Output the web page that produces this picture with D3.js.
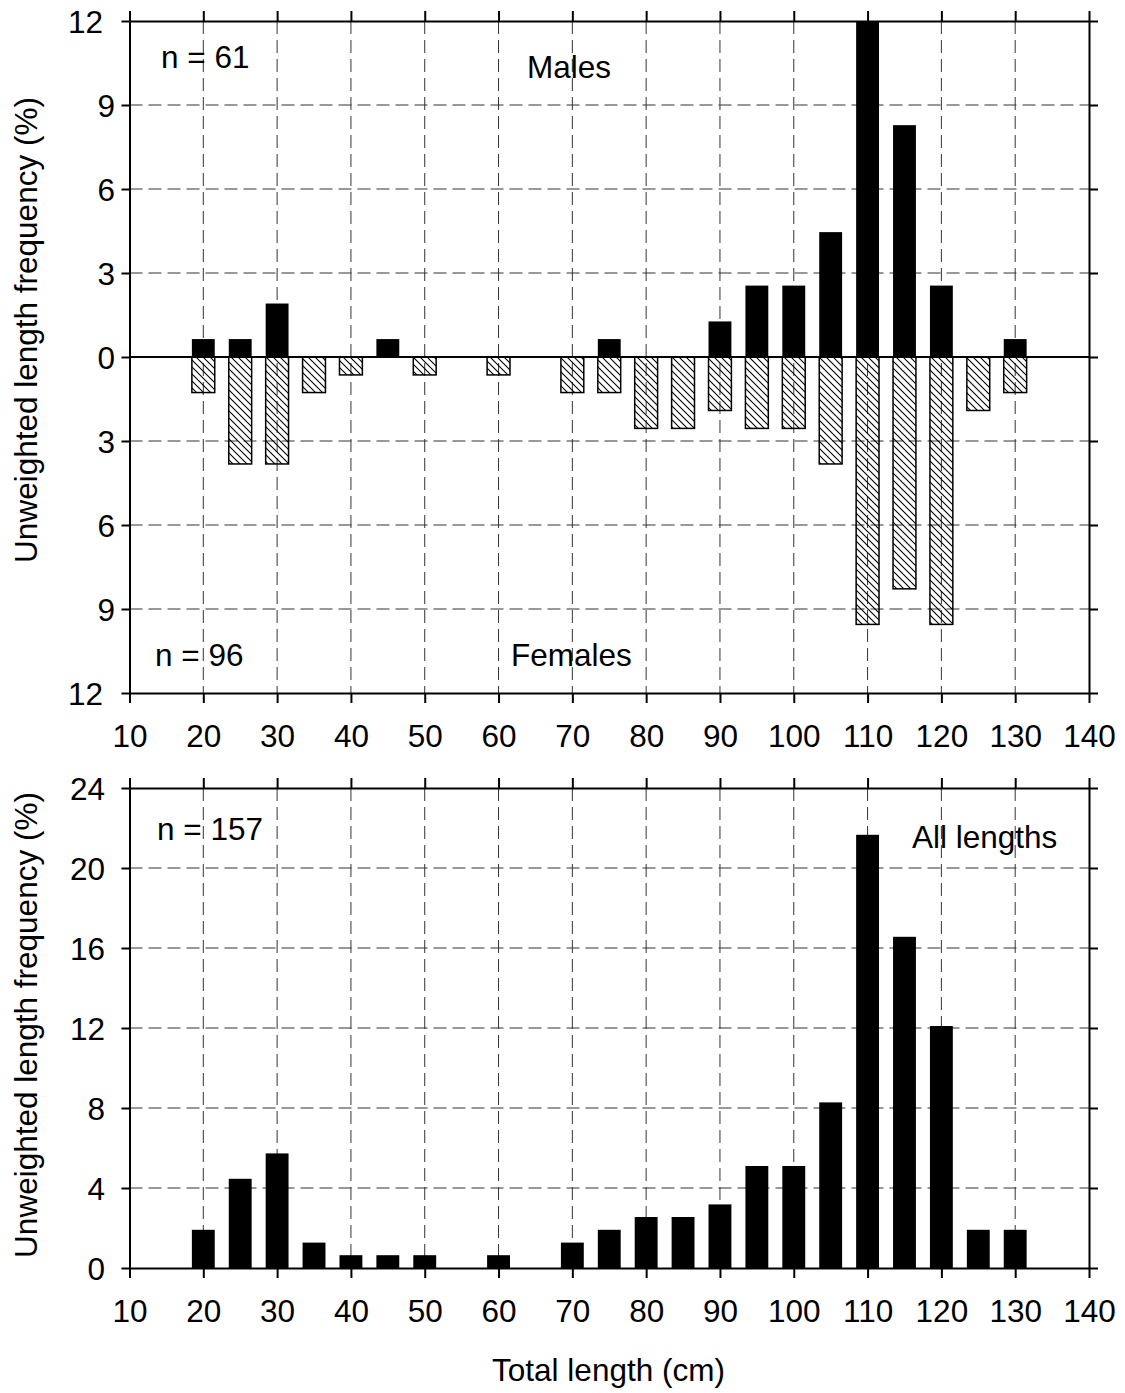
<!DOCTYPE html>
<html><head><meta charset="utf-8">
<script src="https://cdn.jsdelivr.net/npm/d3@7"></script>
<style>
html,body{margin:0;padding:0;background:#fff;}
text{font-family:"Liberation Sans",Arial,sans-serif;fill:#000;}
</style></head>
<body>
<svg id="c" width="1125" height="1393"></svg>
<script>
const lengths = [20,25,30,35,40,45,50,55,60,65,70,75,80,85,90,95,100,105,110,115,120,125,130];
const males   = [0.64,0.64,1.91,0,0,0.64,0,0,0,0,0,0.64,0,0,1.27,2.55,2.55,4.46,12.10,8.28,2.55,0,0.64];
const females = [1.27,3.82,3.82,1.27,0.64,0,0.64,0,0.64,0,1.27,1.27,2.55,2.55,1.91,2.55,2.55,3.82,9.55,8.28,9.55,1.91,1.27];
const allLengths = [1.91,4.46,5.73,1.27,0.64,0.64,0.64,0,0.64,0,1.27,1.91,2.55,2.55,3.18,5.10,5.10,8.28,21.66,16.56,12.10,1.91,1.91];
const xTicks = [10,20,30,40,50,60,70,80,90,100,110,120,130,140];
const yTicksTop = [-12,-9,-6,-3,0,3,6,9,12];
const yTicksBottom = [0,4,8,12,16,20,24];
const nMales = "n = 61", nFemales = "n = 96", nAll = "n = 157";

const FS = 31.5;
const svg = d3.select("#c");
const x = d3.scaleLinear().domain([10,140]).range([129.5,1089]);
const barW = x(13.1) - x(10);

const defs = svg.append("defs");
const pat = defs.append("pattern").attr("id","hatch").attr("patternUnits","userSpaceOnUse")
  .attr("width",7).attr("height",7);
pat.append("path").attr("d","M-1,-1 L8,8 M-1,6 L1,8 M6,-1 L8,1").attr("stroke","#000").attr("stroke-width",1.1);

function panel(y, yTicks, labelEnd, clipId) {
  const g = svg.append("g");
  const [y0,y1] = y.range(); // bottom, top
  defs.append("clipPath").attr("id",clipId).append("rect")
    .attr("x",x(10)).attr("y",y1).attr("width",x(140)-x(10)).attr("height",y0-y1);
  const grid = g.append("g").attr("stroke","#333").attr("stroke-width",1).attr("stroke-dasharray","13,6");
  grid.selectAll("line.v").data(xTicks.filter(d=>d>10&&d<140)).join("line")
    .attr("x1",d=>x(d)).attr("x2",d=>x(d)).attr("y1",y1).attr("y2",y0);
  grid.selectAll("line.h").data(yTicks.filter(d=>d!==0 && d!==y.domain()[0] && d!==y.domain()[1])).join("line")
    .attr("x1",x(10)).attr("x2",x(140)).attr("y1",d=>y(d)).attr("y2",d=>y(d));
  const bars = g.append("g").attr("clip-path",`url(#${clipId})`);
  const ax = (gen, tr) => {
    const a = g.append("g").attr("transform",tr).call(gen);
    a.select(".domain").attr("stroke-width",2);
    a.selectAll(".tick line").attr("stroke-width",2);
    return a;
  };
  const bx = ax(d3.axisBottom(x).tickValues(xTicks).tickSize(10).tickSizeOuter(0).tickPadding(22), `translate(0,${y0})`);
  bx.selectAll("text").attr("font-size",FS).attr("font-family","Liberation Sans, Arial, sans-serif");
  ax(d3.axisTop(x).tickValues(xTicks).tickSize(10).tickSizeOuter(0).tickFormat(""), `translate(0,${y1})`);
  const ly = ax(d3.axisLeft(y).tickValues(yTicks).tickSize(8).tickSizeOuter(0).tickFormat(d=>Math.abs(d)), `translate(${x(10)},0)`);
  ly.selectAll("text").attr("font-size",FS).attr("font-family","Liberation Sans, Arial, sans-serif")
    .attr("x",function(d){ return labelEnd(String(Math.abs(d))) - x(10); }).attr("dy","0.35em");
  ax(d3.axisRight(y).tickValues(yTicks).tickSize(9).tickSizeOuter(0).tickFormat(""), `translate(${x(140)},0)`);
  return {g, bars};
}

// top panel
const yT = d3.scaleLinear().domain([-12,12]).range([693,21]);
const topPanel = panel(yT, yTicksTop, s => s.length>1 ? 103 : 115, "clipT");
const mData = lengths.map((l,i)=>({l,v:males[i]})).filter(d=>d.v>0);
const fData = lengths.map((l,i)=>({l,v:females[i]})).filter(d=>d.v>0);
topPanel.bars.selectAll("rect.f").data(fData).join("rect")
  .attr("x",d=>x(d.l)-barW/2).attr("width",barW)
  .attr("y",yT(0)).attr("height",d=>yT(-d.v)-yT(0))
  .attr("fill","url(#hatch)").attr("stroke","#000").attr("stroke-width",1.5);
topPanel.bars.selectAll("rect.m").data(mData).join("rect")
  .attr("x",d=>x(d.l)-barW/2).attr("width",barW)
  .attr("y",d=>yT(d.v)).attr("height",d=>yT(0)-yT(d.v))
  .attr("fill","#000");
topPanel.g.append("line").attr("x1",x(10)).attr("x2",x(140)).attr("y1",yT(0)).attr("y2",yT(0))
  .attr("stroke","#000").attr("stroke-width",2);
topPanel.g.append("text").attr("x",161).attr("y",68).attr("font-size",FS).text(nMales);
topPanel.g.append("text").attr("x",527).attr("y",78).attr("font-size",FS).text("Males");
topPanel.g.append("text").attr("x",155).attr("y",666).attr("font-size",FS).text(nFemales);
topPanel.g.append("text").attr("x",511).attr("y",666).attr("font-size",FS).text("Females");

// bottom panel
const yB = d3.scaleLinear().domain([0,24]).range([1268,788]);
const botPanel = panel(yB, yTicksBottom, s => 105, "clipB");
const aData = lengths.map((l,i)=>({l,v:allLengths[i]})).filter(d=>d.v>0);
botPanel.bars.selectAll("rect").data(aData).join("rect")
  .attr("x",d=>x(d.l)-barW/2).attr("width",barW)
  .attr("y",d=>yB(d.v)).attr("height",d=>yB(0)-yB(d.v)).attr("fill","#000");
botPanel.g.append("text").attr("x",157).attr("y",840).attr("font-size",FS).text(nAll);
botPanel.g.append("text").attr("x",912).attr("y",848).attr("font-size",FS).text("All lengths");

// axis titles
svg.append("text").attr("transform",`translate(37,330) rotate(-90)`).attr("text-anchor","middle")
  .attr("font-size",FS).text("Unweighted length frequency (%)");
svg.append("text").attr("transform",`translate(37,1025) rotate(-90)`).attr("text-anchor","middle")
  .attr("font-size",FS).text("Unweighted length frequency (%)");
svg.append("text").attr("x",608.5).attr("y",1381).attr("text-anchor","middle")
  .attr("font-size",FS).text("Total length (cm)");
</script>
</body></html>
